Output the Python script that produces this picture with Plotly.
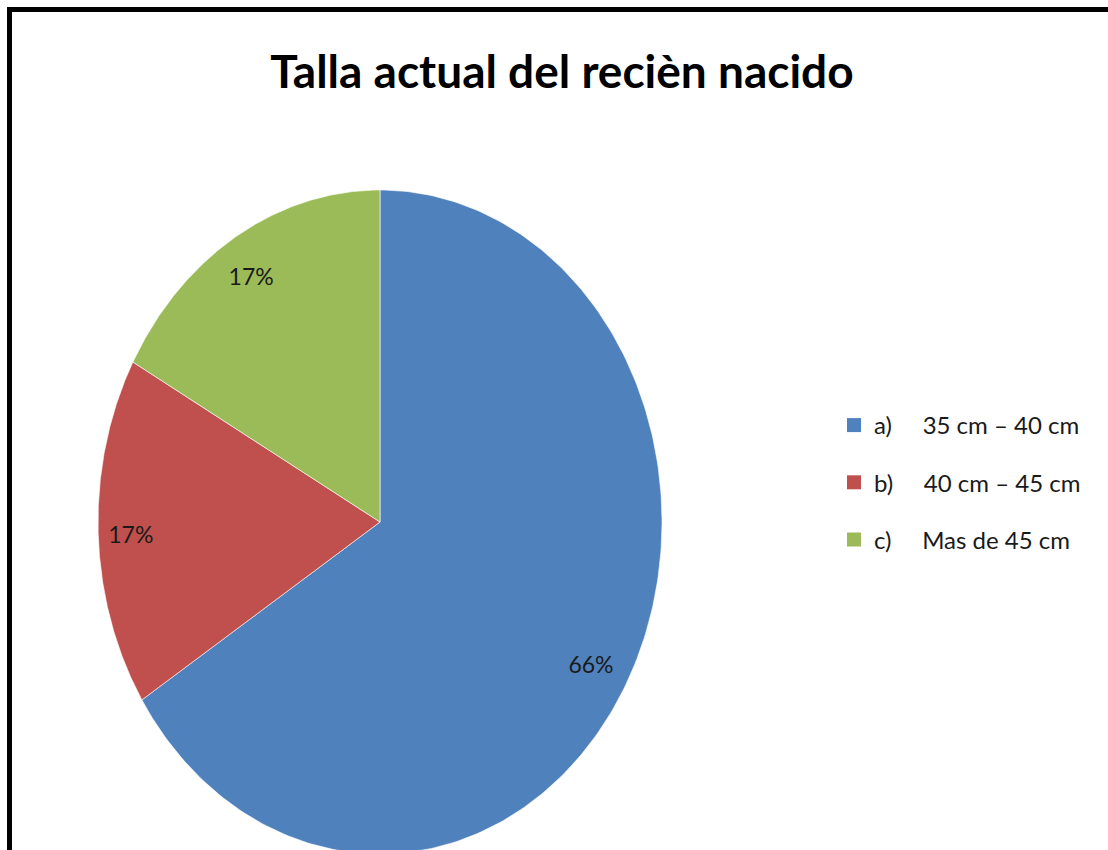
import numpy as np
import plotly.graph_objects as go

# ---- data ----
categories = ["a)", "b)", "c)"]
ranges = ["35 cm – 40 cm", "40 cm – 45 cm", "Mas de 45 cm"]
values = [66, 17, 17]
colors = ["#4F81BD", "#C0504D", "#9BBB59"]
title_text = "Talla actual del recièn nacido"

W, H = 1108, 850
# pie geometry in pixels (ellipse, as in the reference)
cx, cy = 380, 522
rx, ry = 282, 332

FONT = "Lato, Open Sans, sans-serif"

fig = go.Figure()

total = float(sum(values))
start = 0.0
label_dy = 6 / ry  # small downward nudge of the percentage labels
for i, v in enumerate(values):
    frac0 = start / total
    frac1 = (start + v) / total
    # clockwise from 12 o'clock
    th = np.linspace(frac0, frac1, 240) * 2 * np.pi
    xs = np.concatenate([[0.0], np.sin(th), [0.0]])
    ys = np.concatenate([[0.0], np.cos(th), [0.0]])
    fig.add_trace(go.Scatter(
        x=xs, y=ys, mode="lines", fill="toself",
        fillcolor=colors[i], line=dict(color="rgba(255,255,255,0.6)", width=1),
        showlegend=False, hoverinfo="skip", legendgroup=f"g{i}",
    ))
    mid = (frac0 + frac1) / 2 * 2 * np.pi
    r_lab = 0.87
    fig.add_trace(go.Scatter(
        x=[r_lab * np.sin(mid) - 4 / rx], y=[r_lab * np.cos(mid) - label_dy], mode="text",
        text=[f"{v}%"], textposition="middle center",
        textfont=dict(family=FONT, size=23, color="#1a1a1a"),
        showlegend=False, hoverinfo="skip",
    ))
    start += v

# legend entries
nb = "\u00a0"
gaps = [5, 5, 5]
for i in range(len(values)):
    fig.add_trace(go.Scatter(
        x=[None], y=[None], mode="markers",
        marker=dict(symbol="square", size=14, color=colors[i]),
        name=categories[i] + nb * gaps[i] + ranges[i],
        legendgroup=f"g{i}",
    ))

# axes: unit ellipse mapped to pixels
fig.update_xaxes(range=[-cx / rx, (W - cx) / rx], domain=[0, 1], visible=False, fixedrange=True)
fig.update_yaxes(range=[-(H - cy) / ry, cy / ry], domain=[0, 1], visible=False, fixedrange=True)

fig.update_layout(
    width=W, height=H,
    margin=dict(l=0, r=0, t=0, b=0, autoexpand=False),
    paper_bgcolor="white", plot_bgcolor="white",
    title=dict(text=title_text, x=562 / W, y=1 - 72 / H, xanchor="center", yanchor="middle",
               font=dict(family=FONT, size=46, color="black", weight="bold")),
    legend=dict(x=834 / W, y=1 - 403 / H, xanchor="left", yanchor="top",
                font=dict(family=FONT, size=24, color="#1a1a1a"),
                tracegroupgap=23, bgcolor="rgba(0,0,0,0)"),
    shapes=[
        dict(type="line", xref="paper", yref="paper", x0=7 / W, x1=1.0, y0=1 - 9.5 / H, y1=1 - 9.5 / H,
             line=dict(color="black", width=5)),
        dict(type="line", xref="paper", yref="paper", x0=9.5 / W, x1=9.5 / W, y0=0, y1=1 - 7 / H,
             line=dict(color="black", width=5)),
    ],
)

fig.write_html("out.html", config={"displayModeBar": False},
               post_script="document.body.style.margin='0';")
